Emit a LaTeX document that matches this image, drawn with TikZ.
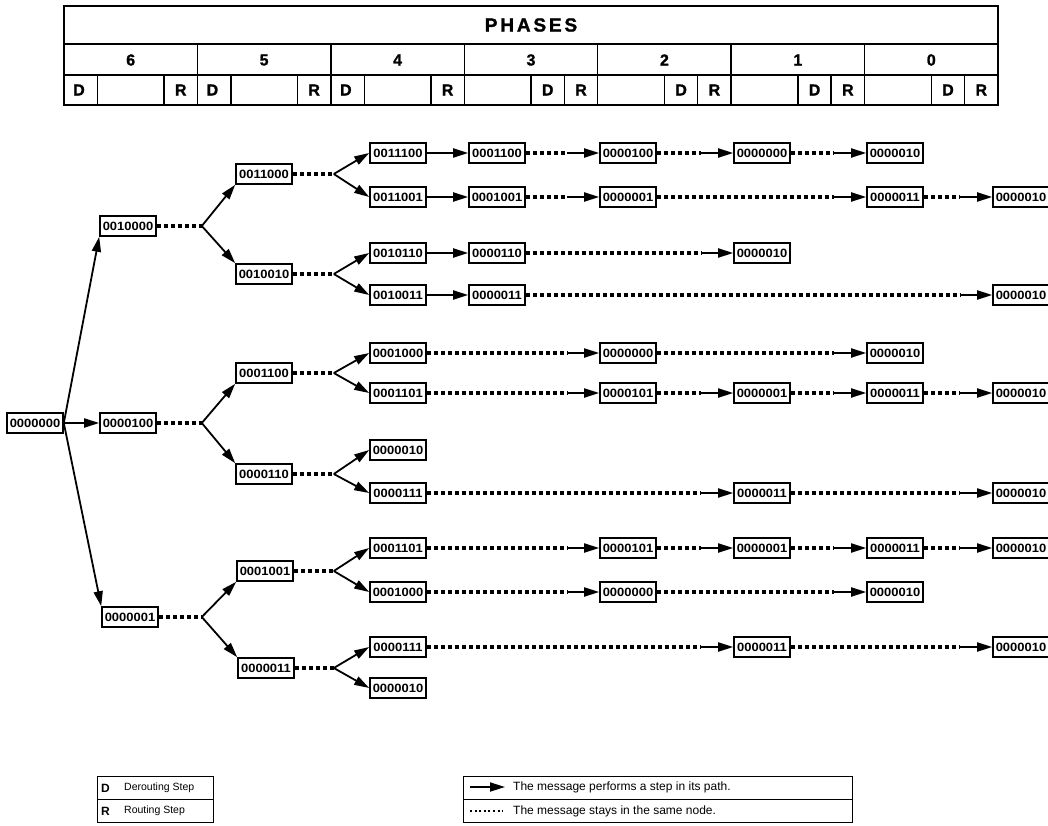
\documentclass[tikz,border=0pt]{standalone}
\usepackage{fontspec}
\setmainfont{Liberation Sans}
\newfontfamily\addrfont[FakeStretch=1.08]{Liberation Sans}
\newfontfamily\headfont[FakeBold=1.2,LetterSpace=15]{Liberation Sans}
\usetikzlibrary{arrows.meta,calc}

\begin{document}
\begin{tikzpicture}[
    x=1pt,y=-1pt,
    line join=miter,
    every node/.style={inner sep=0pt},
    addr/.style={
        draw,
        line width=1.6pt,
        minimum width=56pt,
        minimum height=20pt,
        inner sep=0pt,
        font=\addrfont\bfseries\fontsize{12}{12}\selectfont
    },
    hop/.style={
        line width=1.8pt,
        -{Triangle[length=15pt,width=9pt]}
    },
    stay/.style={
        line width=3.4pt,
        dash pattern=on 4pt off 3pt
    },
    keydots/.style={
        line width=2pt,
        dash pattern=on 2pt off 2.6pt
    },
    grid/.style={line width=1.4pt},
    keygrid/.style={line width=1pt},
    title/.style={font=\headfont\bfseries\fontsize{19}{19}\selectfont},
    cell/.style={font=\headfont\bfseries\fontsize{16}{16}\selectfont},
    keyletter/.style={font=\bfseries\fontsize{12}{12}\selectfont},
    keytext/.style={font=\fontsize{10.5}{10.5}\selectfont},
    keywide/.style={font=\fontsize{12}{12}\selectfont}
]

\useasboundingbox (0,0) rectangle (1048,826);

% ============================================================
% wait in the node, then step to the next one
% ============================================================

\newcommand{\WaitStep}[2]{%
    \draw[stay] (#1.east) -- ($(#2.west)+(-32,0)$);
    \draw[hop] ($(#2.west)+(-32,0)$) -- (#2.west);
}

% ============================================================
% phase table
% ============================================================

\draw[grid] (64,6) rectangle (998,105);
\draw[grid] (64,44) -- (998,44);
\draw[grid] (64,75) -- (998,75);
\foreach \i in {1,...,6}
    \draw[grid] (64+\i*133.43,44) -- (64+\i*133.43,105);

\node[title] (phases) at (531,25) {PHASES};

\foreach \d [count=\i from 0] in {6,5,4,3,2,1,0}
    \node[cell] (ph\d) at (64+133.43*\i+66.7,60) {\d};

% derouting first
\foreach \d [count=\i from 0] in {6,5,4} {
    \draw[grid] (64+133.43*\i+33.4,75) -- (64+133.43*\i+33.4,105);
    \draw[grid] (64+133.43*\i+100,75) -- (64+133.43*\i+100,105);
    \node[cell] (d\d) at (64+133.43*\i+15,90) {D};
    \node[cell] (r\d) at (64+133.43*\i+116.7,90) {R};
}
% derouting last
\foreach \d [count=\i from 3] in {3,2,1,0} {
    \draw[grid] (64+133.43*\i+66.7,75) -- (64+133.43*\i+66.7,105);
    \draw[grid] (64+133.43*\i+100,75) -- (64+133.43*\i+100,105);
    \node[cell] (d\d) at (64+133.43*\i+83.4,90) {D};
    \node[cell] (r\d) at (64+133.43*\i+116.7,90) {R};
}

% ============================================================
% tree
% ============================================================

\node[addr] (n0) at (35,423) {0000000};

\node[addr] (a1) at (128,226) {0010000};
\node[addr] (a2) at (128,423) {0000100};
\node[addr] (a3) at (130,617) {0000001};

\draw[hop] (n0.east) -- (a1.south west);
\draw[hop] (n0.east) -- (a2.west);
\draw[hop] (n0.east) -- (a3.north west);

\node[addr] (b1) at (264,174) {0011000};
\node[addr] (b2) at (264,274) {0010010};
\node[addr] (b3) at (264,373) {0001100};
\node[addr] (b4) at (264,474) {0000110};
\node[addr] (b5) at (265,571) {0001001};
\node[addr] (b6) at (266,668) {0000011};

\coordinate (fa1) at ($(a1.east)+(45,0)$);
\coordinate (fa2) at ($(a2.east)+(45,0)$);
\coordinate (fa3) at ($(a3.east)+(43,0)$);

\draw[stay] (a1.east) -- (fa1);
\draw[hop] (fa1) -- (b1.south west);
\draw[hop] (fa1) -- (b2.north west);
\draw[stay] (a2.east) -- (fa2);
\draw[hop] (fa2) -- (b3.south west);
\draw[hop] (fa2) -- (b4.north west);
\draw[stay] (a3.east) -- (fa3);
\draw[hop] (fa3) -- (b5.south west);
\draw[hop] (fa3) -- (b6.north west);

% ============================================================
% level 3 and the paths to the end
% ============================================================

\node[addr] (r1c3) at (398,153) {0011100};
\node[addr] (r2c3) at (398,197) {0011001};
\node[addr] (r3c3) at (398,253) {0010110};
\node[addr] (r4c3) at (398,295) {0010011};
\node[addr] (r5c3) at (398,353) {0001000};
\node[addr] (r6c3) at (398,393) {0001101};
\node[addr] (r7c3) at (398,450) {0000010};
\node[addr] (r8c3) at (398,493) {0000111};
\node[addr] (r9c3) at (398,548) {0001101};
\node[addr] (r10c3) at (398,592) {0001000};
\node[addr] (r11c3) at (398,647) {0000111};
\node[addr] (r12c3) at (398,688) {0000010};

\coordinate (fb1) at ($(b1.east)+(41,0)$);
\coordinate (fb2) at ($(b2.east)+(41,0)$);
\coordinate (fb3) at ($(b3.east)+(41,0)$);
\coordinate (fb4) at ($(b4.east)+(41,0)$);
\coordinate (fb5) at ($(b5.east)+(40,0)$);
\coordinate (fb6) at ($(b6.east)+(39,0)$);

\draw[stay] (b1.east) -- (fb1);
\draw[hop] (fb1) -- (r1c3.west);
\draw[hop] (fb1) -- (r2c3.west);
\draw[stay] (b2.east) -- (fb2);
\draw[hop] (fb2) -- (r3c3.west);
\draw[hop] (fb2) -- (r4c3.west);
\draw[stay] (b3.east) -- (fb3);
\draw[hop] (fb3) -- (r5c3.west);
\draw[hop] (fb3) -- (r6c3.west);
\draw[stay] (b4.east) -- (fb4);
\draw[hop] (fb4) -- (r7c3.west);
\draw[hop] (fb4) -- (r8c3.west);
\draw[stay] (b5.east) -- (fb5);
\draw[hop] (fb5) -- (r9c3.west);
\draw[hop] (fb5) -- (r10c3.west);
\draw[stay] (b6.east) -- (fb6);
\draw[hop] (fb6) -- (r11c3.west);
\draw[hop] (fb6) -- (r12c3.west);

% row 1
\node[addr] (r1c4) at (497,153) {0001100};
\node[addr] (r1c5) at (628,153) {0000100};
\node[addr] (r1c6) at (762,153) {0000000};
\node[addr] (r1c7) at (895,153) {0000010};
\draw[hop] (r1c3) -- (r1c4);
\WaitStep{r1c4}{r1c5}
\WaitStep{r1c5}{r1c6}
\WaitStep{r1c6}{r1c7}

% row 2
\node[addr] (r2c4) at (497,197) {0001001};
\node[addr] (r2c5) at (628,197) {0000001};
\node[addr] (r2c7) at (895,197) {0000011};
\node[addr] (r2c8) at (1021,197) {0000010};
\draw[hop] (r2c3) -- (r2c4);
\WaitStep{r2c4}{r2c5}
\WaitStep{r2c5}{r2c7}
\WaitStep{r2c7}{r2c8}

% row 3
\node[addr] (r3c4) at (497,253) {0000110};
\node[addr] (r3c6) at (762,253) {0000010};
\draw[hop] (r3c3) -- (r3c4);
\WaitStep{r3c4}{r3c6}

% row 4
\node[addr] (r4c4) at (497,295) {0000011};
\node[addr] (r4c8) at (1021,295) {0000010};
\draw[hop] (r4c3) -- (r4c4);
\WaitStep{r4c4}{r4c8}

% row 5
\node[addr] (r5c5) at (628,353) {0000000};
\node[addr] (r5c7) at (895,353) {0000010};
\WaitStep{r5c3}{r5c5}
\WaitStep{r5c5}{r5c7}

% row 6
\node[addr] (r6c5) at (628,393) {0000101};
\node[addr] (r6c6) at (762,393) {0000001};
\node[addr] (r6c7) at (895,393) {0000011};
\node[addr] (r6c8) at (1021,393) {0000010};
\WaitStep{r6c3}{r6c5}
\WaitStep{r6c5}{r6c6}
\WaitStep{r6c6}{r6c7}
\WaitStep{r6c7}{r6c8}

% row 8
\node[addr] (r8c6) at (762,493) {0000011};
\node[addr] (r8c8) at (1021,493) {0000010};
\WaitStep{r8c3}{r8c6}
\WaitStep{r8c6}{r8c8}

% row 9
\node[addr] (r9c5) at (628,548) {0000101};
\node[addr] (r9c6) at (762,548) {0000001};
\node[addr] (r9c7) at (895,548) {0000011};
\node[addr] (r9c8) at (1021,548) {0000010};
\WaitStep{r9c3}{r9c5}
\WaitStep{r9c5}{r9c6}
\WaitStep{r9c6}{r9c7}
\WaitStep{r9c7}{r9c8}

% row 10
\node[addr] (r10c5) at (628,592) {0000000};
\node[addr] (r10c7) at (895,592) {0000010};
\WaitStep{r10c3}{r10c5}
\WaitStep{r10c5}{r10c7}

% row 11
\node[addr] (r11c6) at (762,647) {0000011};
\node[addr] (r11c8) at (1021,647) {0000010};
\WaitStep{r11c3}{r11c6}
\WaitStep{r11c6}{r11c8}

% ============================================================
% legend
% ============================================================

\draw[keygrid] (97,776) rectangle (213,822);
\draw[keygrid] (97,799) -- (213,799);
\node[keyletter,anchor=west] (kD) at (101,788) {D};
\node[keytext,anchor=west] (kDtext) at (124,788) {Derouting Step};
\node[keyletter,anchor=west] (kR) at (101,811) {R};
\node[keytext,anchor=west] (kRtext) at (124,811) {Routing Step};

\draw[keygrid] (463,776) rectangle (852,822);
\draw[keygrid] (463,799) -- (852,799);
\coordinate (khop1) at (470,787);
\coordinate (khop2) at (505,787);
\draw[hop] (khop1) -- (khop2);
\coordinate (kstay1) at (470,811);
\coordinate (kstay2) at (503,811);
\draw[keydots] (kstay1) -- (kstay2);
\node[keywide,anchor=west] (khoptext) at (513,787) {The message performs a step in its path.};
\node[keywide,anchor=west] (kstaytext) at (513,811) {The message stays in the same node.};

\end{tikzpicture}
\end{document}
